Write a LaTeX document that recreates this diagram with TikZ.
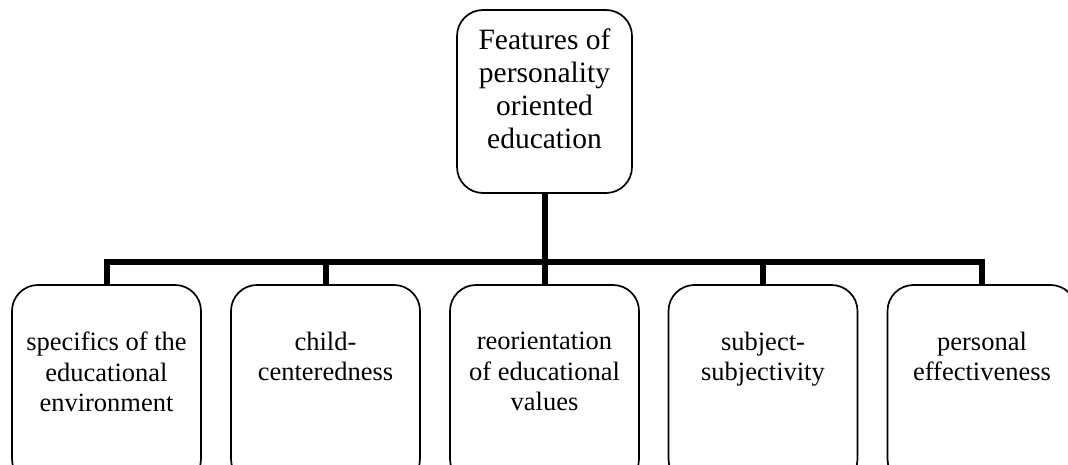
\documentclass[tikz,border=0pt]{standalone}
\usepackage{fontspec}
\setmainfont{Liberation Serif}
\newcommand\mytopbox[1]{\parbox[c][183pt][t]{175pt}{\centering\fontsize{29.5}{33}\selectfont\vspace*{19pt}#1}}
\newcommand\mybotbox[1]{\parbox[c][200pt][t]{189pt}{\centering\fontsize{26.5}{30.5}\selectfont\vspace*{47pt}#1}}
\begin{document}
\begin{tikzpicture}[x=1pt,y=-1pt,
  box/.style={draw, line width=1.7pt, rounded corners=26pt, inner sep=0pt, outer sep=0pt},
  conn/.style={line width=6pt, line join=miter}]
\useasboundingbox (0,0) rectangle (1068,465);
\node[box] (top) at (544.5,101.5) {\mytopbox{Features of\\personality\\oriented\\education}};
\node[box] (b1) at (106.5,385) {\mybotbox{specifics of the\\educational\\environment}};
\node[box] (b2) at (325.5,385) {\mybotbox{child-\\centeredness}};
\node[box] (b3) at (544.5,385) {\mybotbox{reorientation\\of educational\\values}};
\node[box] (b4) at (763,385) {\mybotbox{subject-\\subjectivity}};
\node[box] (b5) at (982,385) {\mybotbox{personal\\effectiveness}};
\coordinate (bar) at (544.5,262);
\draw[conn] (top.south) -- (b3.north);
\draw[conn] (b1.north) |- (bar -| b5.north) -- (b5.north);
\draw[conn] (b2.north) -- (b2.north |- bar);
\draw[conn] (b4.north) -- (b4.north |- bar);
\end{tikzpicture}
\end{document}
